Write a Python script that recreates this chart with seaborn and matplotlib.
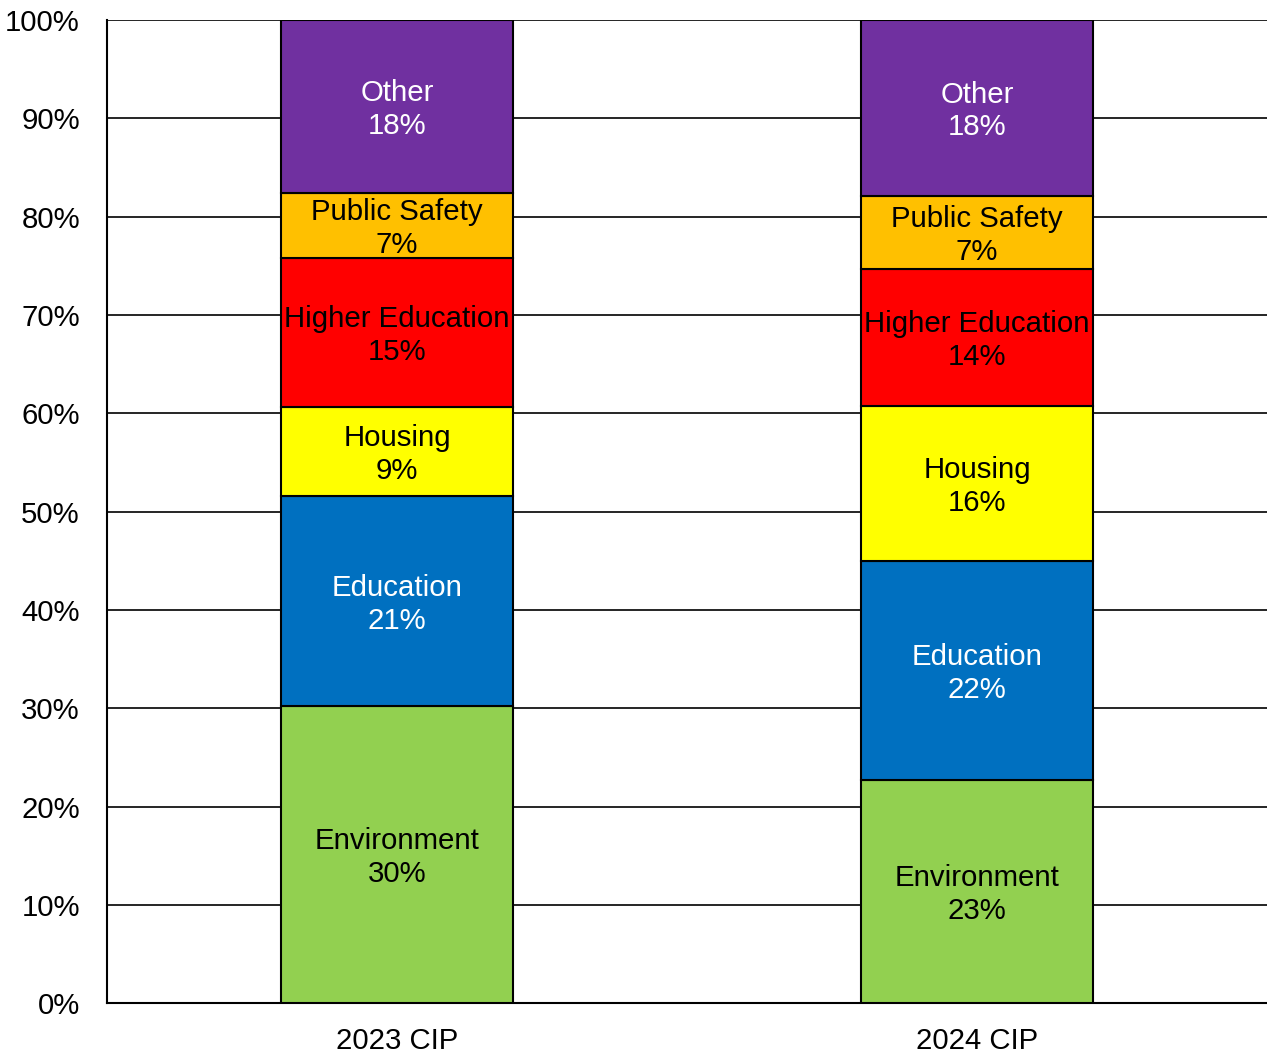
import matplotlib
matplotlib.use("Agg")
import matplotlib.pyplot as plt
import seaborn as sns
import pandas as pd
import numpy as np

# data (percent of total)
years = ["2023 CIP", "2024 CIP"]
sectors = ["Environment", "Education", "Housing", "Higher Education", "Public Safety", "Other"]
environment = [30.2, 22.7]
education = [21.4, 22.3]
housing = [9.0, 15.7]
higher_education = [15.2, 14.0]
public_safety = [6.6, 7.4]
other = [17.6, 17.9]

colors = ["#92D050", "#0070C0", "#FFFF00", "#FF0000", "#FFC000", "#7030A0"]
text_colors = ["black", "white", "black", "black", "black", "white"]

values = [environment, education, housing, higher_education, public_safety, other]

sns.set_style("white")
plt.rcParams["font.family"] = ["Liberation Sans", "DejaVu Sans"]

fig = plt.figure(figsize=(12.67, 10.53), dpi=100)
ax = fig.add_axes([107 / 1267, 49.7 / 1053, 1 - 107 / 1267, (1003.3 - 20) / 1053])

fs = 21.2
bottom = np.zeros(len(years))
for sector, vals, col, tcol in zip(sectors, values, colors, text_colors):
    df = pd.DataFrame({"year": years, "pct": vals})
    sns.barplot(data=df, x="year", y="pct", order=years, color=col, width=0.4,
                bottom=bottom.copy(), edgecolor="black", linewidth=1.5,
                saturation=1, ax=ax, zorder=3)
    for i, v in enumerate(vals):
        # label centred in its segment, nudged down a touch like the original
        ax.annotate(f"{sector}\n{round(v)}%", (i, bottom[i] + v / 2),
                    xytext=(0, -2.2), textcoords="offset points",
                    ha="center", va="center", color=tcol, fontsize=fs,
                    linespacing=1.22, zorder=4)
    bottom += np.array(vals)

ax.set_ylim(0, 100)
ax.set_xlim(-0.5, 1.5)
ax.set_yticks(range(0, 101, 10))
ax.set_yticklabels([f"{t}%" for t in range(0, 101, 10)])
ax.yaxis.grid(True, color="black", linewidth=1.2)
ax.set_axisbelow(True)
ax.tick_params(axis="y", length=0, pad=19.5, labelsize=fs, labelcolor="black")
ax.tick_params(axis="x", length=0, pad=17, labelsize=fs, labelcolor="black")
ax.set_xlabel("")
ax.set_ylabel("")
for side in ["top", "right"]:
    ax.spines[side].set_visible(False)
for side in ["left", "bottom"]:
    ax.spines[side].set_color("black")
    ax.spines[side].set_linewidth(1.5)

fig.savefig("out.png", dpi=100)
